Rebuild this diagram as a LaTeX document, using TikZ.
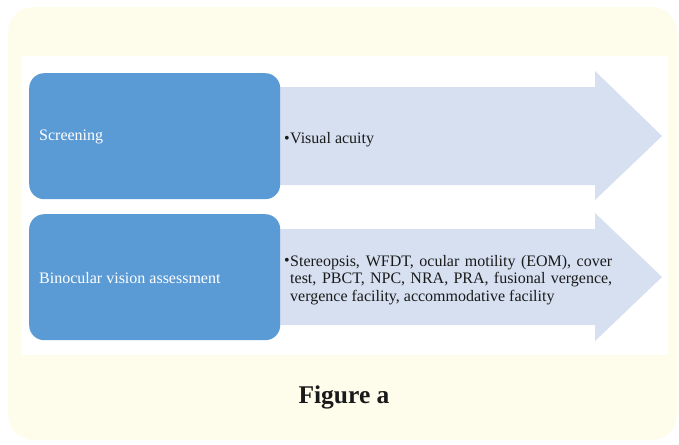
\documentclass[tikz,border=0pt]{standalone}
\usepackage{fontspec}
\setmainfont{Liberation Serif}
\definecolor{cream}{HTML}{FEFCEB}
\definecolor{boxblue}{HTML}{5B9BD5}
\definecolor{arrowblue}{HTML}{D6E0F1}
\definecolor{ink}{HTML}{1A1A1A}
\begin{document}
\begin{tikzpicture}[x=1pt,y=-1pt,
  stagebox/.style={fill=boxblue,draw=none,rounded corners=15pt},
  arrowshape/.style={fill=arrowblue,draw=none},
  stagelabel/.style={text=white,font=\fontsize{16}{19}\selectfont,anchor=west,inner sep=0pt},
  bullettext/.style={text=ink,font=\fontsize{16}{17.5}\selectfont,anchor=west,inner sep=0pt,align=justify}
]
\useasboundingbox (0,0) rectangle (679,444);
\fill[cream,rounded corners=25pt] (8,7) rectangle (677,440);
\fill[white] (21,56) rectangle (668,355);
% arrows
\fill[arrowshape] (270,87) -- (595,87) -- (595,71) -- (662,136) -- (595,200) -- (595,185) -- (270,185) -- cycle;
\fill[arrowshape] (270,229) -- (595,229) -- (595,213) -- (662,277) -- (595,341) -- (595,325) -- (270,325) -- cycle;
% blue boxes
\node[stagebox,minimum width=251pt,minimum height=126pt,anchor=north west,inner sep=0pt] (s1) at (29,73) {};
\node[stagebox,minimum width=251pt,minimum height=126pt,anchor=north west,inner sep=0pt] (s2) at (29,214) {};
\node[stagelabel] (l1) at (39,137) {Screening};
\node[stagelabel] (l2) at (39,278) {Binocular vision assessment};
% bullet texts
\node[bullettext,anchor=east] (b1) at (290,140) {\textbullet};
\node[bullettext] (t1) at (290,140) {Visual acuity};
\node[bullettext,anchor=east] (b2) at (290,262) {\textbullet};
\node[bullettext,text width=322pt] (t2) at (290,280) {Stereopsis, WFDT, ocular motility (EOM), cover\linebreak test, PBCT, NPC, NRA, PRA, fusional vergence,\linebreak vergence facility, accommodative facility};
% caption
\node[text=ink,font=\bfseries\fontsize{25.5}{30}\selectfont,inner sep=0pt] (cap) at (344,397) {Figure a};
\end{tikzpicture}
\end{document}
